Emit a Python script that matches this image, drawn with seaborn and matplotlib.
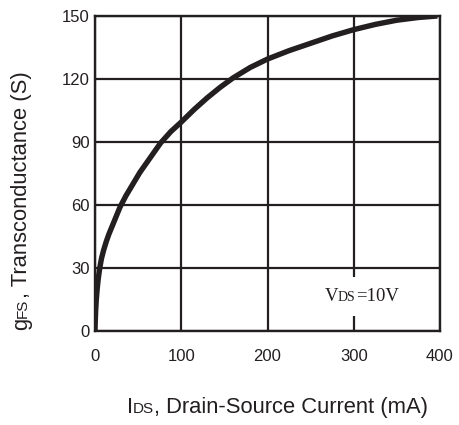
import matplotlib
matplotlib.use("Agg")
import matplotlib.pyplot as plt
import seaborn as sns
from matplotlib.offsetbox import TextArea, HPacker, AnnotationBbox

# Forward transconductance vs drain current at VDS = 10 V
ids_ma = [0, 0.3, 0.8, 1.5, 2.5, 3.8, 5.5, 7.5, 10, 13, 16, 22, 29, 36, 44, 52, 64, 76, 88,
          100, 115, 130, 145, 160, 180, 200, 225, 250, 275, 300, 325, 350, 375, 397]
gfs_s = [0, 5, 10, 15, 20, 25, 30, 34.5, 38.5, 42.5, 46, 52, 59, 64.5, 70, 75.5, 82.5, 89.5, 95,
         99.5, 105.5, 111, 116, 120.5, 125.5, 129.5, 133.5, 137, 140.5, 143.5, 146, 148, 149.3, 150]

x_ticks = [0, 100, 200, 300, 400]
y_ticks = [0, 30, 60, 90, 120, 150]

sns.set_style("white")
plt.rcParams["font.family"] = ["Liberation Sans", "DejaVu Sans"]

INK = "#231f20"
TICK_FS = 12
LBL_FS = 15.8
SUB_FS = 11

fig = plt.figure(figsize=(4.59, 4.25), dpi=100)
ax = fig.add_axes([95 / 459, 1 - 331 / 425, 345 / 459, 315 / 425])

sns.lineplot(x=ids_ma, y=gfs_s, ax=ax, color=INK, linewidth=3.9,
             solid_capstyle="butt", solid_joinstyle="round", zorder=4)

ax.set_xlim(0, 400)
ax.set_ylim(0, 150)
ax.set_xticks(x_ticks)
ax.set_yticks(y_ticks)
ax.set_xticklabels([str(v) for v in x_ticks])
ax.set_yticklabels([str(v) for v in y_ticks])
ax.tick_params(axis="both", length=0, labelsize=TICK_FS, colors=INK)
ax.tick_params(axis="x", pad=13)
ax.tick_params(axis="y", pad=4)
ax.grid(True, color=INK, linewidth=1.6)
ax.set_axisbelow(True)
for sp in ax.spines.values():
    sp.set_visible(True)
    sp.set_color(INK)
    sp.set_linewidth(1.7)
ax.set_xlabel("")
ax.set_ylabel("")

# x axis title: I + small "DS" + rest
xb, yb = 127 / 459, 1 - 413 / 425
t1 = fig.text(xb, yb, "I", fontsize=LBL_FS, color=INK, ha="left", va="baseline")
t2 = ax.annotate("DS", xy=(1, yb), xycoords=(t1, "figure fraction"),
                 fontsize=SUB_FS, color=INK, ha="left", va="baseline",
                 annotation_clip=False)
ax.annotate(", Drain-Source Current (mA)", xy=(1, yb), xycoords=(t2, "figure fraction"),
            fontsize=LBL_FS, color=INK, ha="left", va="baseline",
            annotation_clip=False)

# y axis title: g + small "FS" + rest, rotated
yx, yy = 27 / 459, 1 - 330 / 425
r1 = fig.text(yx, yy, "g", fontsize=LBL_FS, color=INK, rotation=90,
              rotation_mode="anchor", ha="left", va="baseline")
r2 = ax.annotate("FS", xy=(yx, 1), xycoords=("figure fraction", r1),
                 fontsize=SUB_FS, color=INK, rotation=90, rotation_mode="anchor",
                 ha="left", va="baseline", annotation_clip=False)
ax.annotate(", Transconductance (S)", xy=(yx, 1), xycoords=("figure fraction", r2),
            fontsize=LBL_FS, color=INK, rotation=90, rotation_mode="anchor",
            ha="left", va="baseline", annotation_clip=False)

# condition note with white backing over the grid
serif = {"family": "Liberation Serif", "color": INK}
note = HPacker(children=[
    TextArea("V", textprops=dict(fontsize=13.5, **serif)),
    TextArea("DS", textprops=dict(fontsize=10, **serif)),
    TextArea("=10V", textprops=dict(fontsize=13.5, **serif)),
], align="baseline", pad=0, sep=0)
ab = AnnotationBbox(note, (309, 16.5), xycoords="data", frameon=True,
                    box_alignment=(0.5, 0.5), pad=0.6, fontsize=13,
                    bboxprops=dict(facecolor="white", edgecolor="none"))
ab.set_zorder(3)
ax.add_artist(ab)

fig.savefig("out.png", dpi=100)
